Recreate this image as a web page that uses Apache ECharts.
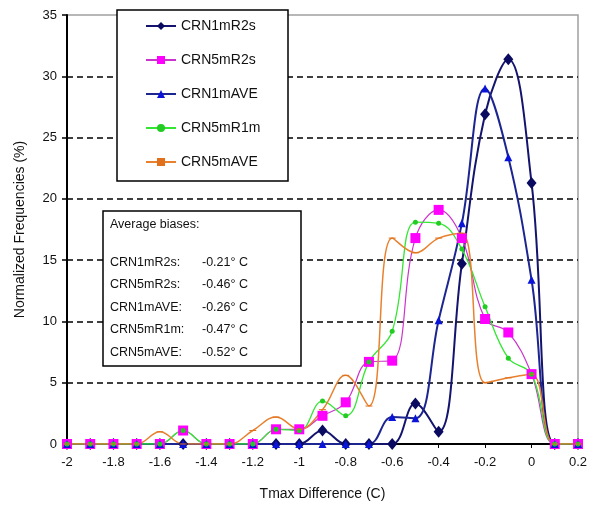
<!DOCTYPE html>
<html>
<head>
<meta charset="utf-8">
<script src="https://cdn.jsdelivr.net/npm/echarts@6/dist/echarts.min.js"></script>
<style>
  html, body { margin: 0; padding: 0; background: #fff; }
  #chart { width: 594px; height: 506px; }
</style>
</head>
<body>
<div id="chart"></div>
<script>
// x positions (Tmax difference, C)
var xs = [-2, -1.9, -1.8, -1.7, -1.6, -1.5, -1.4, -1.3, -1.2, -1.1, -1.0, -0.9,
          -0.8, -0.7, -0.6, -0.5, -0.4, -0.3, -0.2, -0.1, 0, 0.1, 0.2];

// normalized frequencies (%)
var crn1mR2s = [0, 0, 0, 0, 0, 0, 0, 0, 0, 0, 0, 1.1,
                0, 0, 0, 3.3, 1.0, 14.7, 26.9, 31.4, 21.3, 0, 0];
var crn5mR2s = [0, 0, 0, 0, 0, 1.1, 0, 0, 0, 1.2, 1.2, 2.3,
                3.4, 6.7, 6.8, 16.8, 19.1, 16.8, 10.2, 9.1, 5.7, 0, 0];
var crn1mAVE = [0, 0, 0, 0, 0, 0, 0, 0, 0, 0, 0, 0,
                0, 0, 2.2, 2.1, 10.1, 18.0, 29.0, 23.4, 13.4, 0, 0];
var crn5mR1m = [0, 0, 0, 0, 0, 1.1, 0, 0, 0, 1.2, 1.1, 3.5,
                2.3, 6.7, 9.2, 18.1, 18.0, 15.9, 11.2, 7.0, 5.7, 0, 0];
var crn5mAVE = [0, 0, 0, 0, 1.0, 0, 0, 0, 1.1, 2.2, 1.2, 2.8,
                5.6, 3.1, 16.8, 15.6, 16.8, 17.2, 5.0, 5.4, 5.7, 0, 0];

var seriesNames = ["CRN1mR2s", "CRN5mR2s", "CRN1mAVE", "CRN5mR1m", "CRN5mAVE"];
var biasNames = ["CRN1mR2s:", "CRN5mR2s:", "CRN1mAVE:", "CRN5mR1m:", "CRN5mAVE:"];
var biasValues = ["-0.21\u00b0 C", "-0.46\u00b0 C", "-0.26\u00b0 C", "-0.47\u00b0 C", "-0.52\u00b0 C"];

var FONT = "Liberation Sans, Arial, sans-serif";

function pairs(vals) {
  return xs.map(function (x, i) { return [x, vals[i]]; });
}

var chart = echarts.init(document.getElementById("chart"), null, { renderer: "canvas" });

// annotation box texts
var noteTexts = [{
  type: "text", left: 110, top: 218, z: 51,
  style: { text: "Average biases:", font: "12.5px " + FONT, fill: "#111" }
}];
biasNames.forEach(function (n, i) {
  noteTexts.push({
    type: "text", left: 110, top: 256 + i * 22.5, z: 51,
    style: { text: n, font: "12.5px " + FONT, fill: "#111" }
  });
  noteTexts.push({
    type: "text", left: 202, top: 256 + i * 22.5, z: 51,
    style: { text: biasValues[i], font: "12.5px " + FONT, fill: "#111" }
  });
});

chart.setOption({
  animation: false,
  backgroundColor: "#fff",
  grid: {
    left: 67, right: 16, top: 15, bottom: 61,
    show: true, borderColor: "#a0a0a0", borderWidth: 1.5
  },
  legend: {
    orient: "vertical",
    left: 145, top: 19,
    itemWidth: 30, itemHeight: 10, itemGap: 20,
    padding: 0,
    z: 60,
    data: seriesNames,
    textStyle: { fontSize: 14, lineHeight: 14, fontFamily: FONT, color: "#111" }
  },
  xAxis: {
    type: "value",
    min: -2, max: 0.2, interval: 0.2,
    name: "Tmax Difference (C)",
    nameLocation: "middle", nameGap: 43,
    nameTextStyle: { fontSize: 14, fontFamily: FONT, color: "#111" },
    axisLine: { onZero: false, lineStyle: { color: "#000", width: 2 } },
    axisTick: { length: 4, lineStyle: { color: "#000" } },
    axisLabel: { fontSize: 13, fontFamily: FONT, color: "#111", margin: 12 },
    splitLine: { show: false }
  },
  yAxis: {
    type: "value",
    min: 0, max: 35, interval: 5,
    name: "Normalized Frequencies (%)",
    nameLocation: "middle", nameGap: 40,
    nameTextStyle: { fontSize: 14, fontFamily: FONT, color: "#111" },
    axisLine: { show: true, onZero: false, lineStyle: { color: "#000", width: 2 } },
    axisTick: { show: true, length: 5, lineStyle: { color: "#000", width: 1.5 } },
    axisLabel: { fontSize: 13, fontFamily: FONT, color: "#111", margin: 10 },
    splitLine: {
      show: true, showMaxLine: false,
      lineStyle: { color: "#000", type: [6, 4], width: 1.5 }
    }
  },
  graphic: [
    {
      type: "rect", z: 50,
      shape: { x: 117, y: 10, width: 171, height: 171 },
      style: { fill: "#fff", stroke: "#000", lineWidth: 1.5 }
    },
    {
      type: "rect", z: 50,
      shape: { x: 103, y: 211, width: 198, height: 155 },
      style: { fill: "#fff", stroke: "#000", lineWidth: 1.5 }
    }
  ].concat(noteTexts),
  series: [
    {
      name: "CRN1mR2s", type: "line", smooth: 0.4,
      data: pairs(crn1mR2s),
      symbol: "diamond", symbolSize: [10, 12],
      lineStyle: { color: "#14146e", width: 2 },
      itemStyle: { color: "#0a0a60" }
    },
    {
      name: "CRN5mR2s", type: "line", smooth: 0.4,
      data: pairs(crn5mR2s),
      symbol: "rect", symbolSize: 10,
      lineStyle: { color: "#cc33cc", width: 1.2 },
      itemStyle: { color: "#ff00ff" }
    },
    {
      name: "CRN1mAVE", type: "line", smooth: 0.4,
      data: pairs(crn1mAVE),
      symbol: "triangle", symbolSize: 8,
      lineStyle: { color: "#1c2590", width: 2 },
      itemStyle: { color: "#0a14d8" }
    },
    {
      name: "CRN5mR1m", type: "line", smooth: 0.4,
      data: pairs(crn5mR1m),
      symbol: "circle", symbolSize: 5,
      lineStyle: { color: "#33e633", width: 1.3 },
      itemStyle: { color: "#22cc22" }
    },
    {
      name: "CRN5mAVE", type: "line", smooth: 0.4,
      data: pairs(crn5mAVE),
      symbol: "path://M0,0 L6,0 L6,2 L0,2 Z", symbolSize: [7, 3], symbolKeepAspect: true,
      lineStyle: { color: "#e8802e", width: 1.5 },
      itemStyle: { color: "#e0701c" }
    }
  ]
});
</script>
</body>
</html>
